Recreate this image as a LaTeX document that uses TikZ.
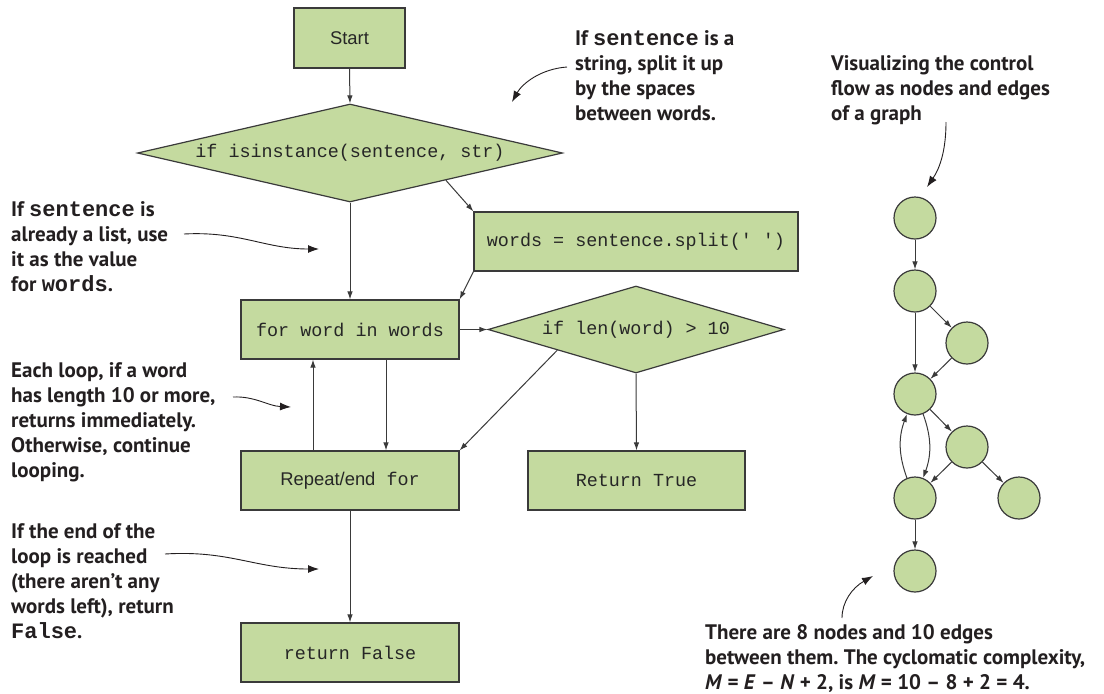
\documentclass[tikz,border=0pt]{standalone}
\usepackage{fontspec}
\setmainfont{PT Sans}
\newfontfamily\codefont{Liberation Mono}
\newfontfamily\arialfont{Liberation Sans}
\usetikzlibrary{shapes.geometric,arrows.meta,calc}
\definecolor{boxfill}{HTML}{C4DA9F}
\definecolor{boxline}{HTML}{3A3A3A}
\definecolor{inkc}{HTML}{231F20}
\newcommand\anncode[1]{{\codefont\bfseries\fontsize{22}{25}\selectfont #1}}
\frenchspacing
\begin{document}
\begin{tikzpicture}[x=1pt,y=-1pt,
  shapebase/.style={draw=boxline, line width=1.2pt, fill=boxfill, inner sep=0pt,
    font=\codefont\fontsize{18.4}{22}\selectfont, text=black!85},
  box/.style={shapebase, rectangle},
  dia/.style={shapebase, diamond},
  gnode/.style={circle, draw=boxline, line width=1.2pt, fill=boxfill, minimum size=42pt, inner sep=0pt},
  flow/.style={-{Latex[length=8pt,width=5.5pt]}, line width=1pt, draw=boxline},
  callout/.style={-{Latex[length=11pt,width=8pt]}, line width=0.9pt, draw=inkc},
  note/.style={anchor=north west, inner sep=0pt, align=left,
    font=\bfseries\fontsize{21}{25}\selectfont, text=inkc},
]
\useasboundingbox[fill=white] (0,0) rectangle (1104,694);

% flowchart nodes
\node[box, minimum width=111pt, minimum height=60pt] (start) at (349.5,38) {\arialfont Start};
\node[dia, aspect=4.34, minimum width=425pt, minimum height=98pt] (d1) at (350,153) {if isinstance(sentence, str)};
\node[box, minimum width=324pt, minimum height=59pt] (words) at (636,241.5) {words = sentence.split(' ')};
\node[box, minimum width=218pt, minimum height=59pt] (for) at (350,329.5) {for word in words};
\node[dia, aspect=3.4, minimum width=296pt, minimum height=87pt] (d2) at (636,329.5) {if len(word) > 10};
\node[box, minimum width=218pt, minimum height=59pt] (repeat) at (350,480.5) {{\arialfont Repeat/end}\ for};
\node[box, minimum width=217pt, minimum height=59pt] (rtrue) at (636.5,480.5) {Return True};
\node[box, minimum width=218pt, minimum height=59pt] (rfalse) at (350,652.5) {return False};

% flowchart connectors
\draw[flow] (start.south) -- (d1.north);
\draw[flow] (d1.south) -- (for.north);
\draw[flow] ($(d1.south)!0.45!(d1.east)$) -- (words.north west);
\draw[flow] (words.south west) -- (for.north east);
\draw[flow] (for.east) -- (d2.west);
\draw[flow] ($(d2.west)!0.47!(d2.south)$) -- (repeat.north east);
\draw[flow] (d2.south) -- (rtrue.north);
\draw[flow] ([xshift=-37pt]repeat.north) -- ([xshift=-37pt]for.south);
\draw[flow] ([xshift=36pt]for.south) -- ([xshift=36pt]repeat.north);
\draw[flow] (repeat.south) -- (rfalse.north);

% graph
\node[gnode] (n1) at (915,218) {};
\node[gnode] (n2) at (915,291) {};
\node[gnode] (n3) at (967,343) {};
\node[gnode] (n4) at (915,394) {};
\node[gnode] (n5) at (967,447) {};
\node[gnode] (n6) at (915,498) {};
\node[gnode] (n7) at (1019,498) {};
\node[gnode] (n8) at (915,571) {};
\draw[flow] (n1) -- (n2);
\draw[flow] (n2) -- (n3);
\draw[flow] (n2) -- (n4);
\draw[flow] (n3) -- (n4);
\draw[flow] (n4) -- (n5);
\draw[flow] (n5) -- (n6);
\draw[flow] (n5) -- (n7);
\draw[flow] (n6) -- (n8);
\draw[flow] (n6.112) to[bend left=20] (n4.248);
\draw[flow] (n4.292) to[bend left=20] (n6.68);

% annotations
\node[note] (noteA) at (575,30) {If \anncode{sentence} is a\\string, split it up\\by the spaces\\between words.};
\node[note] (noteB) at (831,55) {Visualizing the control\\flow as nodes and edges\\of a graph};
\node[note] (noteC) at (11,201) {If \anncode{sentence} is\\already a list, use\\it as the value\\for \anncode{words}.};
\node[note] (noteD) at (11,362) {Each loop, if a word\\has length 10 or more,\\returns immediately.\\Otherwise, continue\\looping.};
\node[note] (noteE) at (11,523) {If the end of the\\loop is reached\\(there aren’t any\\words left), return\\\anncode{False}.};
\node[note] (noteF) at (705,624) {There are 8 nodes and 10 edges\\between them. The cyclomatic complexity,\\\textit{M} = \textit{E} – \textit{N} + 2, is \textit{M} = 10 – 8 + 2 = 4.};

% callout arrows
\coordinate (cA1) at (567,67);   \coordinate (cA2) at (512,102);
\coordinate (cB1) at (946,122);  \coordinate (cB2) at (927,187);
\coordinate (cC1) at (184,234);  \coordinate (cC2) at (319,249);
\coordinate (cD1) at (233,397);  \coordinate (cD2) at (291,407);
\coordinate (cE1) at (165,554);  \coordinate (cE2) at (319,569);
\coordinate (cF1) at (842,618);  \coordinate (cF2) at (873,576);
\draw[callout] (cA1) .. controls (540,69) and (522,84) .. (cA2);
\draw[callout] (cB1) .. controls (946,150) and (940,168) .. (cB2);
\draw[callout] (cC1) .. controls (240,231) and (265,249) .. (cC2);
\draw[callout] (cD1) .. controls (255,396) and (268,406) .. (cD2);
\draw[callout] (cE1) .. controls (230,550) and (255,569) .. (cE2);
\draw[callout] (cF1) .. controls (842,602) and (852,588) .. (cF2);
\end{tikzpicture}
\end{document}
